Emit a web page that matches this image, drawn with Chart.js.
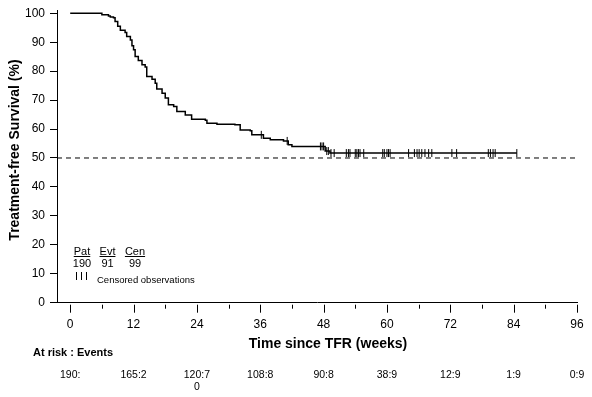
<!DOCTYPE html>
<html>
<head>
<meta charset="utf-8">
<script src="https://cdn.jsdelivr.net/npm/chart.js@4.4.1/dist/chart.umd.min.js"></script>
<style>
  body { margin: 0; background: #fff; }
  canvas { display: block; }
</style>
</head>
<body>
<canvas id="km" width="592" height="397"></canvas>
<script>
// Kaplan-Meier steps (weeks, survival %)
const kmWeeks = [0, 6.0, 7.25, 7.6, 8.2, 8.5, 9.0, 9.5, 10.4, 10.7, 11.4, 11.7, 12.0, 12.3, 12.9, 13.6,
  14.2, 14.5, 15.5, 16.1, 16.4, 17.4, 18.0, 18.6, 19.6, 20.2, 21.8, 23.0, 25.6, 25.9, 27.8, 31.2,
  32.2, 34.1, 34.4, 36.6, 37.9, 40.4, 41.3, 42.0, 48.3, 49.2, 84.6];
const kmSurv = [100, 99.5, 99.1, 98.7, 98.5, 97.2, 95.5, 94.1, 93.4, 92.0, 90.8, 88.8, 87.4, 85.1, 83.7, 82.2,
  81.4, 78.2, 77.2, 75.8, 73.8, 72.4, 70.7, 68.4, 67.8, 66.1, 64.9, 63.4, 63.0, 62.0, 61.7, 61.5,
  59.7, 59.4, 58.0, 56.8, 56.3, 55.9, 54.6, 54.0, 52.4, 51.7, 51.7];

// censored observations
const censorWeeks = [36.2, 41.1, 47.4, 47.7, 48.0, 48.6, 48.9, 49.4, 50.0, 52.3, 52.7, 53.0, 54.0, 54.3,
  54.6, 54.9, 55.6, 59.2, 59.5, 60.0, 60.3, 60.6, 64.1, 65.2, 65.7, 66.1, 66.6, 67.2, 67.9, 68.5,
  72.3, 73.2, 79.2, 79.6, 80.1, 80.5, 84.6];
const censorSurv = [58.0, 55.9, 54.0, 54.0, 54.0, 52.4, 52.4, 51.7, 51.7, 51.7, 51.7, 51.7, 51.7, 51.7,
  51.7, 51.7, 51.7, 51.7, 51.7, 51.7, 51.7, 51.7, 51.7, 51.7, 51.7, 51.7, 51.7, 51.7, 51.7, 51.7,
  51.7, 51.7, 51.7, 51.7, 51.7, 51.7, 51.7];

const medianLine = 50;
const xTicks = [0, 12, 24, 36, 48, 60, 72, 84, 96];
const yTicks = [0, 10, 20, 30, 40, 50, 60, 70, 80, 90, 100];

// at risk table
const atRiskWeeks = [0, 12, 24, 36, 48, 60, 72, 84, 96];
const atRiskText = ['190:', '165:2', '120:7\n0', '108:8', '90:8', '38:9', '12:9', '1:9', '0:9'];

// summary box
const summaryHead = ['Pat', 'Evt', 'Cen'];
const summaryVals = ['190', '91', '99'];

const FONT = "'Liberation Sans', Arial, sans-serif";
Chart.defaults.font.family = FONT;
Chart.defaults.color = '#000';

const extras = {
  id: 'extras',
  afterDraw(chart) {
    const c = chart.ctx, xs = chart.scales.x, a = chart.chartArea;
    c.save();
    c.fillStyle = '#000';
    c.strokeStyle = '#000';
    c.lineWidth = 1;

    // x tick marks, minor ones halfway between the labelled ticks
    for (let i = 0; i < xTicks.length; i++) {
      const px = Math.round(xs.getPixelForValue(xTicks[i])) + 0.5;
      c.beginPath(); c.moveTo(px, a.bottom + 2); c.lineTo(px, a.bottom + 10); c.stroke();
      if (i < xTicks.length - 1) {
        const mx = Math.round(xs.getPixelForValue((xTicks[i] + xTicks[i + 1]) / 2)) + 0.5;
        c.beginPath(); c.moveTo(mx, a.bottom + 2); c.lineTo(mx, a.bottom + 6); c.stroke();
      }
    }

    // axis titles
    c.font = 'bold 14px ' + FONT;
    c.textAlign = 'center';
    c.textBaseline = 'middle';
    c.fillText('Time since TFR (weeks)', 328, 344);
    c.save();
    c.translate(15, 150);
    c.rotate(-Math.PI / 2);
    c.fillText('Treatment-free Survival (%)', 0, 0);
    c.restore();

    // at risk
    c.font = 'bold 11px ' + FONT;
    c.textAlign = 'left';
    c.fillText('At risk : Events', 33, 353);
    c.font = '10.5px ' + FONT;
    c.textAlign = 'center';
    atRiskWeeks.forEach((w, i) => {
      const px = xs.getPixelForValue(w);
      atRiskText[i].split('\n').forEach((ln, j) => c.fillText(ln, px, 375 + j * 12));
    });

    // summary box
    c.font = '11px ' + FONT;
    const heads = [82, 107.5, 135];
    summaryHead.forEach((h, i) => {
      c.textBaseline = 'alphabetic';
      c.fillText(h, heads[i], 255);
      const w = c.measureText(h).width;
      c.fillRect(heads[i] - w / 2, 256, w, 1);
      c.fillText(summaryVals[i], heads[i], 267);
    });
    [76, 81, 86].forEach(px => {
      c.beginPath(); c.moveTo(px + 0.5, 272); c.lineTo(px + 0.5, 280); c.stroke();
    });
    c.font = '9.5px ' + FONT;
    c.textAlign = 'left';
    c.textBaseline = 'middle';
    c.fillText('Censored observations', 97, 280);
    c.restore();
  }
};

new Chart(document.getElementById('km'), {
  type: 'line',
  data: {
    datasets: [
      {
        label: 'KM',
        data: kmWeeks.map((w, i) => ({ x: w, y: kmSurv[i] })),
        stepped: true,
        borderColor: '#000',
        borderWidth: 1.5,
        pointRadius: 0
      },
      {
        label: 'Censored',
        data: censorWeeks.map((w, i) => ({ x: w, y: censorSurv[i] })),
        showLine: false,
        pointStyle: 'line',
        rotation: 90,
        pointRadius: 4,
        borderColor: '#000',
        borderWidth: 1
      },
      {
        label: 'Median',
        data: [{ x: -2.5, y: medianLine }, { x: 96, y: medianLine }],
        borderColor: '#000',
        borderWidth: 1,
        borderDash: [5, 4],
        pointRadius: 0
      }
    ]
  },
  options: {
    responsive: false,
    animation: false,
    devicePixelRatio: 1,
    layout: { padding: { top: 10.4, right: 15, left: 0, bottom: 0 } },
    plugins: { legend: { display: false }, tooltip: { enabled: false } },
    scales: {
      x: {
        type: 'linear',
        min: -2.5,
        max: 96,
        afterBuildTicks: s => { s.ticks = xTicks.map(v => ({ value: v })); },
        afterFit: s => { s.height = 94.3; s.paddingLeft = 0; s.paddingRight = 0; },
        grid: { display: false, drawTicks: false },
        border: { display: true, color: '#000', width: 1 },
        ticks: { autoSkip: false, maxRotation: 0, padding: 15, font: { size: 12 }, color: '#000' }
      },
      y: {
        min: 0,
        max: 101,
        afterBuildTicks: s => { s.ticks = yTicks.map(v => ({ value: v })); },
        afterFit: s => { s.width = 57; s.paddingTop = 0; s.paddingBottom = 0; },
        grid: { drawOnChartArea: false, drawTicks: true, tickLength: 7, tickColor: '#000' },
        border: { display: true, color: '#000', width: 1 },
        ticks: { padding: 5, font: { size: 12 }, color: '#000' }
      }
    }
  },
  plugins: [extras]
});
</script>
</body>
</html>
